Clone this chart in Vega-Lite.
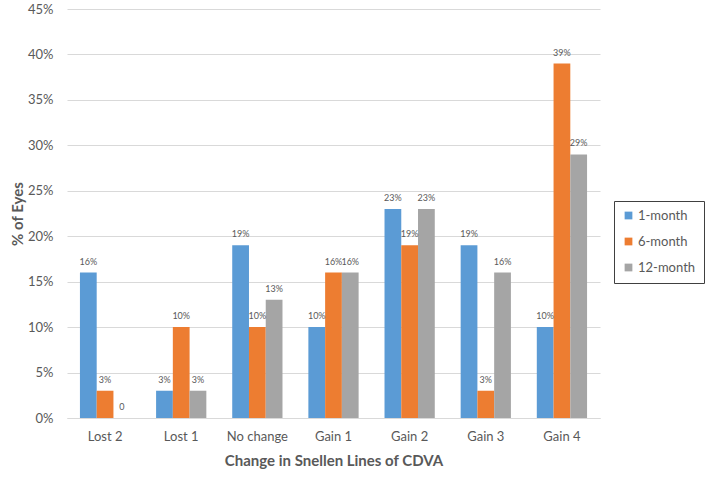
{
  "$schema": "https://vega.github.io/schema/vega-lite/v6.json",
  "autosize": {"type": "none"},
  "width": 533,
  "height": 409,
  "padding": {"left": 67, "top": 9, "right": 109, "bottom": 59},
  "background": "white",
  "config": {
    "font": "Lato",
    "view": {"stroke": null}
  },
  "data": {
    "values": [
      {"change": "Lost 2", "period": "1-month", "pct": 16, "label": "16%"},
      {"change": "Lost 2", "period": "6-month", "pct": 3, "label": "3%"},
      {"change": "Lost 2", "period": "12-month", "pct": 0, "label": "0"},
      {"change": "Lost 1", "period": "1-month", "pct": 3, "label": "3%"},
      {"change": "Lost 1", "period": "6-month", "pct": 10, "label": "10%"},
      {"change": "Lost 1", "period": "12-month", "pct": 3, "label": "3%"},
      {"change": "No change", "period": "1-month", "pct": 19, "label": "19%"},
      {"change": "No change", "period": "6-month", "pct": 10, "label": "10%"},
      {"change": "No change", "period": "12-month", "pct": 13, "label": "13%"},
      {"change": "Gain 1", "period": "1-month", "pct": 10, "label": "10%"},
      {"change": "Gain 1", "period": "6-month", "pct": 16, "label": "16%"},
      {"change": "Gain 1", "period": "12-month", "pct": 16, "label": "16%"},
      {"change": "Gain 2", "period": "1-month", "pct": 23, "label": "23%"},
      {"change": "Gain 2", "period": "6-month", "pct": 19, "label": "19%"},
      {"change": "Gain 2", "period": "12-month", "pct": 23, "label": "23%"},
      {"change": "Gain 3", "period": "1-month", "pct": 19, "label": "19%"},
      {"change": "Gain 3", "period": "6-month", "pct": 3, "label": "3%"},
      {"change": "Gain 3", "period": "12-month", "pct": 16, "label": "16%"},
      {"change": "Gain 4", "period": "1-month", "pct": 10, "label": "10%"},
      {"change": "Gain 4", "period": "6-month", "pct": 39, "label": "39%"},
      {"change": "Gain 4", "period": "12-month", "pct": 29, "label": "29%"}
    ]
  },
  "encoding": {
    "x": {
      "field": "change",
      "type": "nominal",
      "sort": ["Lost 2", "Lost 1", "No change", "Gain 1", "Gain 2", "Gain 3", "Gain 4"],
      "scale": {"paddingInner": 0.34, "paddingOuter": 0.17},
      "axis": {
        "title": "Change in Snellen Lines of CDVA",
        "titleFontSize": 15,
        "titleFontWeight": "bold",
        "titleColor": "#595959",
        "titlePadding": 10,
        "labelAngle": 0,
        "labelFontSize": 13,
        "labelColor": "#595959",
        "labelPadding": 12,
        "ticks": false,
        "domainColor": "#d9d9d9",
        "domainWidth": 1
      }
    },
    "xOffset": {
      "field": "period",
      "type": "nominal",
      "sort": ["1-month", "6-month", "12-month"]
    },
    "y": {
      "field": "pct",
      "type": "quantitative",
      "scale": {"domain": [0, 45]},
      "axis": {
        "title": "% of Eyes",
        "titleFontSize": 15,
        "titleFontWeight": "bold",
        "titleColor": "#595959",
        "titlePadding": 2,
        "values": [0, 5, 10, 15, 20, 25, 30, 35, 40, 45],
        "labelExpr": "datum.value + '%'",
        "labelFontSize": 13,
        "labelColor": "#595959",
        "labelPadding": 14,
        "ticks": false,
        "domain": false,
        "gridColor": "#d9d9d9"
      }
    }
  },
  "layer": [
    {
      "mark": {"type": "bar"},
      "encoding": {
        "color": {
          "field": "period",
          "type": "nominal",
          "sort": ["1-month", "6-month", "12-month"],
          "scale": {"domain": ["1-month", "6-month", "12-month"], "range": ["#5B9BD5", "#ED7D31", "#A5A5A5"]},
          "legend": {
            "title": null,
            "orient": "none",
            "legendX": 547,
            "legendY": 192,
            "symbolType": "square",
            "symbolSize": 60,
            "labelFontSize": 13,
            "labelColor": "#595959",
            "rowPadding": 12,
            "padding": 8,
            "strokeColor": "#404040",
            "labelOffset": 3
          }
        }
      }
    },
    {
      "mark": {"type": "text", "baseline": "bottom", "dy": -6, "fontSize": 9, "color": "#595959"},
      "encoding": {
        "text": {"field": "label"}
      }
    }
  ]
}
